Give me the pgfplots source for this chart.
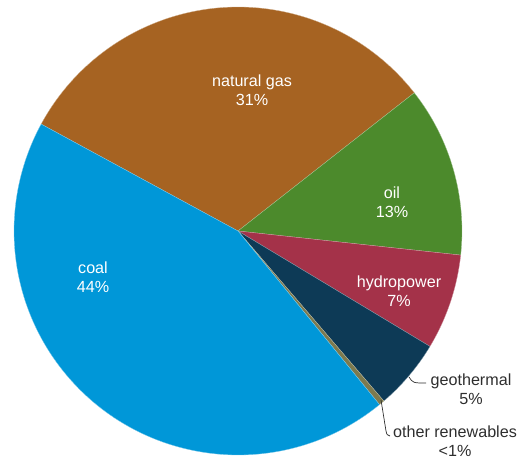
\documentclass[border=0pt]{standalone}
\usepackage{pgfplots}
\usepackage{pgfplotstable}
\pgfplotsset{compat=1.18}
\usepackage{fontspec}
\setmainfont{Liberation Sans}
\definecolor{cgas}{HTML}{A66322}
\definecolor{coil}{HTML}{4C8A2C}
\definecolor{chydro}{HTML}{A43249}
\definecolor{cgeo}{HTML}{0D3A56}
\definecolor{cother}{HTML}{7D7A4E}
\definecolor{ccoal}{HTML}{0097D8}
\definecolor{ctext}{HTML}{2E2E2E}
\pgfplotstableread{
name pct color
gas 31.5 cgas
oil 12.3 coil
hydro 6.9 chydro
geo 5.1 cgeo
other 0.4 cother
coal 43.8 ccoal
}\piedata
\begin{document}
\begin{tikzpicture}
\begin{axis}[width=518bp,height=459bp,scale only axis,
  xmin=0,xmax=518,ymin=0,ymax=459,hide axis,clip=false]
\pgfmathsetmacro\start{151.5}
\pgfplotsforeachungrouped \i in {0,...,5}{%
  \pgfplotstablegetelem{\i}{pct}\of\piedata \let\p\pgfplotsretval
  \pgfplotstablegetelem{\i}{color}\of\piedata \let\c\pgfplotsretval
  \pgfmathsetmacro\stop{\start-3.6*\p}%
  \edef\temp{\noexpand\fill[\c, draw=white!50!\c, line width=0.3pt] (axis cs:238,228) -- ++(\start:224bp) arc[start angle=\start, end angle=\stop, radius=224bp] -- cycle;}%
  \temp
  \global\let\start\stop
}
\draw[ctext, line width=0.7pt] (axis cs:409,82) .. controls (axis cs:413,76) .. (axis cs:426,76);
\draw[ctext, line width=0.7pt] (axis cs:381,59) -- (axis cs:386,28) .. controls (axis cs:387,24) .. (axis cs:390,23);
\tikzset{lbl/.style={align=center, font=\fontsize{16.2}{19}\selectfont}}
\node[lbl, white] at (axis cs:252,369) {natural gas\\31\%};
\node[lbl, white] at (axis cs:392,257) {oil\\13\%};
\node[lbl, white] at (axis cs:399,168) {hydropower\\7\%};
\node[lbl, white] at (axis cs:93,182) {coal\\44\%};
\node[lbl, ctext] at (axis cs:471,70) {geothermal\\5\%};
\node[lbl, ctext] at (axis cs:455,18) {other renewables\\<1\%};
\end{axis}
\pgfresetboundingbox
\path (current axis.south west) rectangle (current axis.north east);
\end{tikzpicture}
\end{document}
